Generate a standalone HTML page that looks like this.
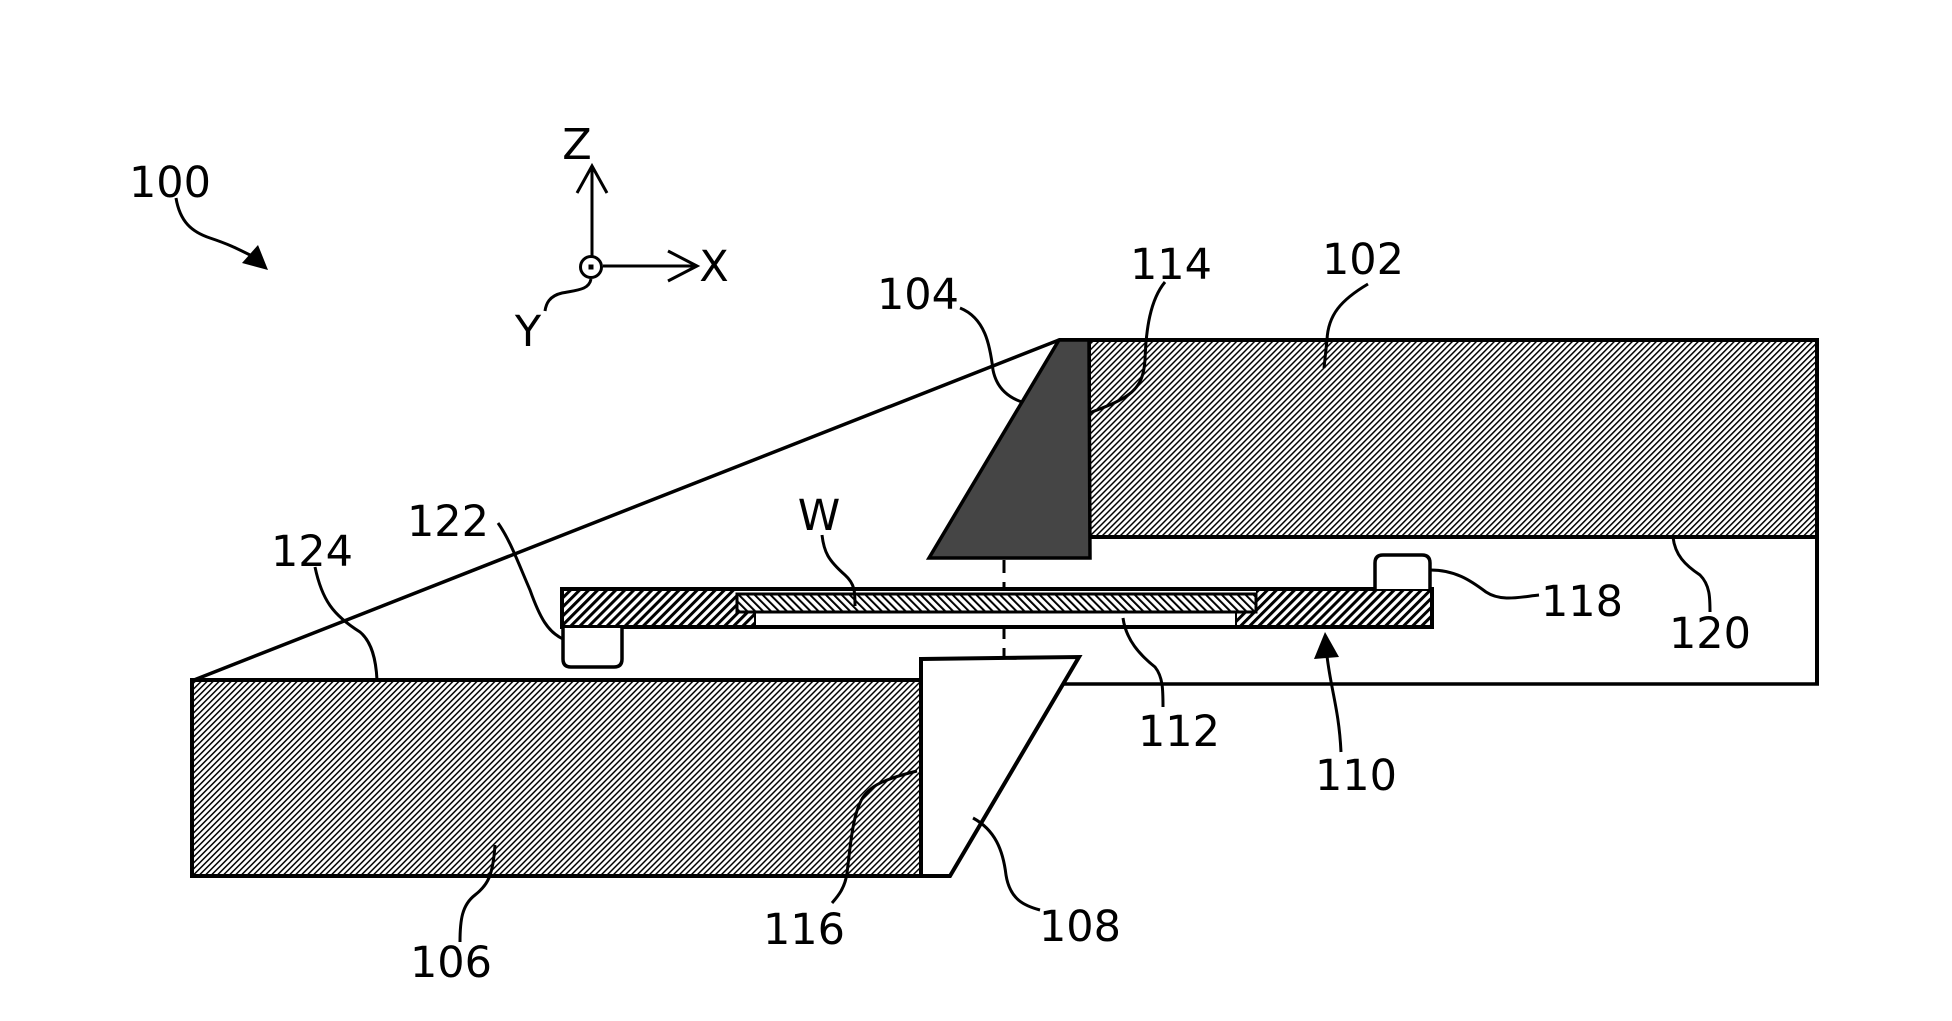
<!DOCTYPE html>
<html>
<head>
<meta charset="utf-8">
<style>
  html, body { margin: 0; padding: 0; background: #ffffff; }
  body { width: 1952px; height: 1021px; overflow: hidden; }
  svg { display: block; }
  text { font-family: "DejaVu Sans", "Liberation Sans", sans-serif; font-size: 43px; fill: #000; }
</style>
</head>
<body>
<svg width="1952" height="1021" viewBox="0 0 1952 1021" xmlns="http://www.w3.org/2000/svg">
  <defs>
    <pattern id="hBlock" width="4.24" height="20" patternUnits="userSpaceOnUse" patternTransform="rotate(45)">
      <rect x="0" y="0" width="1.5" height="20" fill="#000"/>
    </pattern>
    <pattern id="hCarrier" width="6.4" height="20" patternUnits="userSpaceOnUse" patternTransform="rotate(45)">
      <rect x="0" y="0" width="3" height="20" fill="#000"/>
    </pattern>
    <pattern id="hWafer" width="5.6" height="20" patternUnits="userSpaceOnUse" patternTransform="rotate(-45)">
      <rect x="0" y="0" width="2" height="20" fill="#000"/>
    </pattern>
  </defs>

  <rect width="1952" height="1021" fill="#fff"/>

  <!-- enclosure outline: diagonal, right side, bottom -->
  <line x1="194" y1="680" x2="1059" y2="340" stroke="#000" stroke-width="3.5"/>
  <line x1="1059" y1="340" x2="1819" y2="340" stroke="#000" stroke-width="4"/>
  <line x1="1817" y1="340" x2="1817" y2="685" stroke="#000" stroke-width="4"/>
  <line x1="1062" y1="684" x2="1819" y2="684" stroke="#000" stroke-width="3.5"/>

  <!-- block 102 -->
  <rect x="1089" y="340" width="728" height="197" fill="url(#hBlock)" stroke="#000" stroke-width="4"/>

  <!-- element 104 -->
  <polygon points="1059,340 1089,340 1090,558 929,558" fill="#454545" stroke="#000" stroke-width="3.5" stroke-linejoin="miter"/>

  <!-- dashed axis -->
  <line x1="1004" y1="560" x2="1004" y2="657" stroke="#000" stroke-width="3" stroke-dasharray="13 9"/>

  <!-- block 106 -->
  <rect x="192" y="680" width="729" height="196" fill="url(#hBlock)" stroke="#000" stroke-width="4"/>

  <!-- element 108 -->
  <polygon points="921,659 1079,657 950,876 921,876" fill="#fff" stroke="#000" stroke-width="4" stroke-linejoin="miter"/>

  <!-- carrier 110 -->
  <rect x="562" y="589" width="870" height="38" fill="#fff" stroke="none"/>
  <polygon points="562,589 736,589 736,612 755,612 755,627 562,627" fill="url(#hCarrier)"/>
  <polygon points="1256,589 1432,589 1432,627 1236,627 1236,612 1256,612" fill="url(#hCarrier)"/>
  <!-- wafer W -->
  <rect x="737" y="594" width="519" height="18" fill="url(#hWafer)" stroke="#000" stroke-width="3"/>
  <!-- chuck 112 outline -->
  <polyline points="736,612 755,612 755,627" fill="none" stroke="#000" stroke-width="2"/>
  <polyline points="1256,612 1236,612 1236,627" fill="none" stroke="#000" stroke-width="2"/>
  <line x1="755" y1="612" x2="1236" y2="612" stroke="#000" stroke-width="3"/>
  <rect x="562" y="589" width="870" height="38" fill="none" stroke="#000" stroke-width="4"/>

  <!-- 122 pad -->
  <path d="M563,628 L563,659 Q563,667 571,667 L614,667 Q622,667 622,659 L622,628" fill="#fff" stroke="#000" stroke-width="3.5"/>
  <!-- 118 pad -->
  <path d="M1375,589 L1375,563 Q1375,555 1383,555 L1422,555 Q1430,555 1430,563 L1430,589" fill="#fff" stroke="#000" stroke-width="3.5"/>

  <!-- axes -->
  <line x1="592" y1="256" x2="592" y2="167" stroke="#000" stroke-width="3"/>
  <polyline points="577,193 592,166 607,193" fill="none" stroke="#000" stroke-width="3"/>
  <line x1="603" y1="266" x2="696" y2="266" stroke="#000" stroke-width="3"/>
  <polyline points="668,251 697,266 668,281" fill="none" stroke="#000" stroke-width="3"/>
  <circle cx="591" cy="267" r="10.5" fill="#fff" stroke="#000" stroke-width="3"/>
  <rect x="588.5" y="264.5" width="5" height="5" fill="#000"/>
  <path d="M591,279 C589,290 577,290 562,293 C549,296 546,304 545,311" fill="none" stroke="#000" stroke-width="3"/>

  <!-- 100 leader -->
  <path d="M176,198 C180,222 192,232 210,238 C228,244 236,248 250,255" fill="none" stroke="#000" stroke-width="3"/>
  <polygon points="268,270 242,263 258,245" fill="#000"/>

  <!-- leaders -->
  <g fill="none" stroke="#000" stroke-width="3">
    <path d="M960,308 C985,318 990,345 993,370 C997,390 1010,398 1022,402"/>
    <path d="M1165,282 C1150,300 1146,330 1145,360 C1143,390 1130,398 1089,413"/>
    <path d="M1368,284 C1341,300 1328,315 1327,340 L1324,368"/>
    <path d="M315,567 C322,600 333,615 360,632 C372,642 376,660 377,680"/>
    <path d="M498,523 C510,540 517,560 530,590 C540,618 548,632 563,639"/>
    <path d="M822,535 C824,552 828,560 845,575 C855,584 855,592 855,606"/>
    <path d="M495,845 C493,875 488,885 475,895 C462,905 460,920 460,942"/>
    <path d="M917,771 C880,780 866,788 860,803 C852,820 850,850 847,873 C845,888 838,896 832,903"/>
    <path d="M973,818 C995,830 1003,850 1006,875 C1010,900 1025,906 1040,910"/>
    <path d="M1123,618 C1126,640 1140,655 1155,667 C1163,677 1163,690 1163,707"/>
    <path d="M1327,656 C1331,690 1339,710 1341,752"/>
    <path d="M1430,570 C1455,570 1470,580 1486,592 C1501,602 1520,597 1539,595"/>
    <path d="M1673,537 C1675,555 1685,565 1700,575 C1710,585 1710,598 1710,612"/>
  </g>
  <polygon points="1325,632 1314,659 1339,657" fill="#000"/>

  <!-- labels -->
  <g text-anchor="middle">
    <text x="170" y="197">100</text>
    <text x="577" y="159">Z</text>
    <text x="714" y="281">X</text>
    <text x="528" y="346">Y</text>
    <text x="918" y="309">104</text>
    <text x="1171" y="279">114</text>
    <text x="1363" y="274">102</text>
    <text x="448" y="536">122</text>
    <text x="819" y="530">W</text>
    <text x="312" y="566">124</text>
    <text x="1582" y="616">118</text>
    <text x="1710" y="648">120</text>
    <text x="1179" y="746">112</text>
    <text x="1356" y="790">110</text>
    <text x="804" y="944">116</text>
    <text x="1080" y="941">108</text>
    <text x="451" y="977">106</text>
  </g>
</svg>
</body>
</html>
